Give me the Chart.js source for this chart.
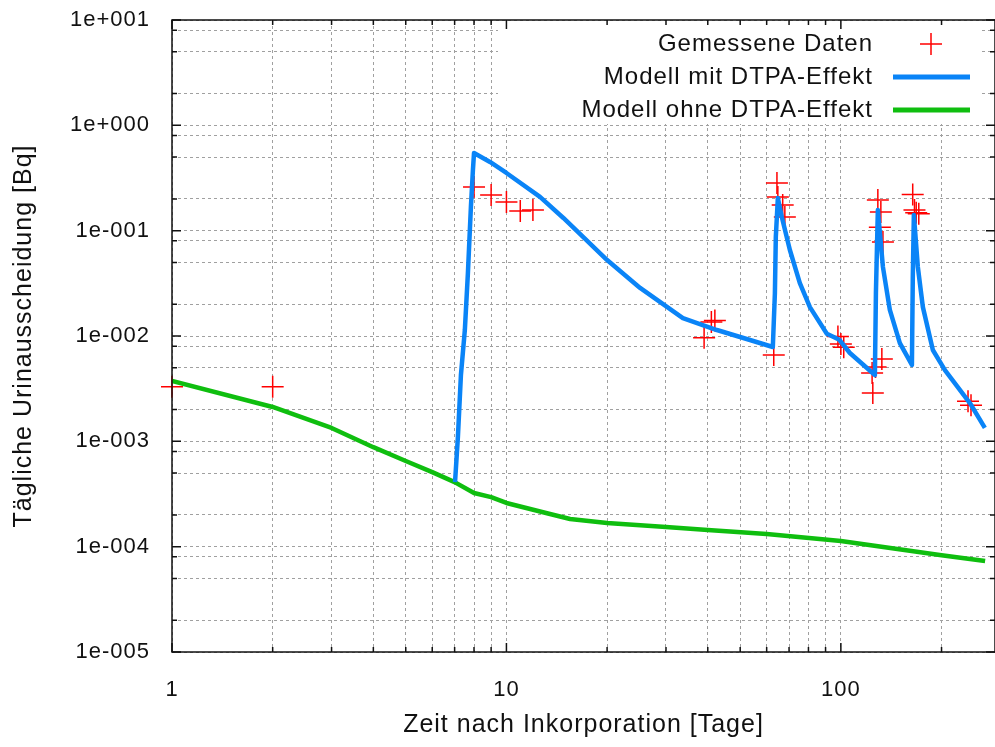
<!DOCTYPE html>
<html>
<head>
<meta charset="utf-8">
<script src="https://cdn.jsdelivr.net/npm/chart.js@4.4.0/dist/chart.umd.min.js"></script>
<style>
  html, body { margin: 0; padding: 0; background: #fff; }
  canvas { display: block; }
</style>
</head>
<body>
<canvas id="myChart" width="995" height="747"></canvas>
<script>
'use strict';

// Messwerte (Tage, Bq)
const messTage = [1, 2, 8, 9, 10, 11, 12, 39, 41, 42, 63, 64.4, 64.8, 67, 68,
  98, 100, 102, 124, 124.6, 127, 132.6, 129, 131.7, 130.8, 133.6, 164, 166, 168, 171, 240, 245];
const messWerte = [3.3e-3, 3.3e-3, 0.26, 0.218, 0.187, 0.154, 0.157, 0.0096, 0.0136, 0.014, 6.6e-3, 0.283, 0.209, 0.175, 0.135,
  0.0099, 0.0084, 0.0078, 4.45e-3, 2.88e-3, 5.08e-3, 6.05e-3, 0.195, 0.15, 0.108, 0.078, 0.22, 0.157, 0.148, 0.145, 2.4e-3, 2.2e-3];

// Modell mit DTPA-Effekt
const mitTage = [7.02, 7.16, 7.31, 7.51, 7.67, 7.83, 7.94, 8.0, 8.93, 10.0, 12.6, 14.8, 20.0, 25.1, 33.7, 42.6, 53.5, 62.6,
  63.5, 63.9, 64.8, 66.6, 70.4, 75.4, 80.8, 90.8, 99, 106.4, 126.4,
  127.3, 129.0, 133.6, 140.1, 150.1, 163.1,
  164.1, 165.3, 169.9, 175.9, 188.4, 204.7, 243.1, 269.5];
const mitWerte = [4.1e-4, 1.1e-3, 4.26e-3, 0.0114, 0.0396, 0.168, 0.377, 0.546, 0.449, 0.353, 0.209, 0.132, 0.0526, 0.0286, 0.0148, 0.0114, 9.16e-3, 7.86e-3,
  0.0256, 0.0871, 0.204, 0.135, 0.0655, 0.0318, 0.0188, 0.0105, 0.0092, 6.9e-3, 4.26e-3,
  0.0256, 0.157, 0.0452, 0.0177, 8.57e-3, 5.31e-3,
  0.0363, 0.141, 0.0452, 0.0188, 7.36e-3, 4.75e-3, 2.31e-3, 1.34e-3];

// Modell ohne DTPA-Effekt
const ohneTage = [1, 2, 3, 4, 5, 6, 7, 8, 9, 10, 13.5, 15.5, 20, 30, 40, 60, 100, 200, 270];
const ohneWerte = [3.74e-3, 2.12e-3, 1.34e-3, 8.8e-4, 6.5e-4, 5.1e-4, 4.1e-4, 3.23e-4, 2.95e-4, 2.6e-4, 2.04e-4, 1.83e-4,
  1.68e-4, 1.54e-4, 1.44e-4, 1.32e-4, 1.13e-4, 8.3e-5, 7.3e-5];

// Achsen
const xTicks = [1, 2, 3, 4, 5, 6, 7, 8, 9, 10, 20, 30, 40, 50, 60, 70, 80, 90, 100, 200];
const xMajor = [1, 10, 100];
const xLabels = ['1', '10', '100'];
const yTicks = [1e-5, 2e-5, 5e-5, 8e-5, 1e-4, 2e-4, 5e-4, 8e-4, 1e-3, 2e-3, 5e-3, 8e-3,
  1e-2, 2e-2, 5e-2, 8e-2, 1e-1, 2e-1, 5e-1, 8e-1, 1, 2, 5, 8, 10];
const yMajor = [1e-5, 1e-4, 1e-3, 1e-2, 1e-1, 1, 10];
const yLabels = ['1e-005', '1e-004', '1e-003', '1e-002', '1e-001', '1e+000', '1e+001'];

const legendItems = ['Gemessene Daten', 'Modell mit DTPA-Effekt', 'Modell ohne DTPA-Effekt'];

const pts = (xs, ys) => xs.map((x, i) => ({x: x, y: ys[i]}));

const FONT = '"Liberation Sans", Arial, sans-serif';

const noPadding = s => {
  s.paddingLeft = 0; s.paddingRight = 0; s.paddingTop = 0; s.paddingBottom = 0;
};

const rahmenPlugin = {
  id: 'rahmen',
  beforeDraw(chart) {
    chart.ctx.letterSpacing = '1px';
  },
  beforeDatasetsDraw(chart) {
    const {ctx, chartArea: a} = chart;
    ctx.save();
    ctx.fillStyle = '#fff';
    ctx.fillRect(a.left + 326, a.top + 1, 482, 103);
    ctx.font = '24px ' + FONT;
    ctx.letterSpacing = '1px';
    ctx.fillStyle = '#111';
    ctx.textAlign = 'right';
    ctx.textBaseline = 'middle';
    const rows = [a.top + 24, a.top + 57, a.top + 90];
    legendItems.forEach((t, i) => ctx.fillText(t, a.left + 701, rows[i]));
    // Symbol rot
    ctx.strokeStyle = '#ff0000';
    ctx.lineWidth = 1.5;
    ctx.beginPath();
    ctx.moveTo(a.left + 748, rows[0]); ctx.lineTo(a.left + 770, rows[0]);
    ctx.moveTo(a.left + 759, rows[0] - 11); ctx.lineTo(a.left + 759, rows[0] + 11);
    ctx.stroke();
    ctx.lineWidth = 5;
    ctx.strokeStyle = '#0a84f7';
    ctx.beginPath(); ctx.moveTo(a.left + 721, rows[1]); ctx.lineTo(a.left + 798, rows[1]); ctx.stroke();
    ctx.strokeStyle = '#0fbe0f';
    ctx.beginPath(); ctx.moveTo(a.left + 721, rows[2]); ctx.lineTo(a.left + 798, rows[2]); ctx.stroke();
    ctx.restore();
  },
  afterDraw(chart) {
    const {ctx, chartArea: a, scales: {x, y}} = chart;
    ctx.save();
    ctx.strokeStyle = '#111';
    ctx.lineWidth = 1.5;
    ctx.beginPath();
    xTicks.forEach(v => {
      const px = x.getPixelForValue(v);
      const len = xMajor.includes(v) ? 9 : 5;
      ctx.moveTo(px, a.bottom); ctx.lineTo(px, a.bottom - len);
      ctx.moveTo(px, a.top); ctx.lineTo(px, a.top + len);
    });
    yTicks.forEach(v => {
      const py = y.getPixelForValue(v);
      const len = yMajor.includes(v) ? 9 : 5;
      ctx.moveTo(a.left, py); ctx.lineTo(a.left + len, py);
      ctx.moveTo(a.right, py); ctx.lineTo(a.right - len, py);
    });
    ctx.stroke();
    ctx.strokeRect(a.left, a.top, a.right - a.left, a.bottom - a.top);
    ctx.restore();
  }
};

const ctx = document.getElementById('myChart').getContext('2d');

const myChart = new Chart(ctx, {
  type: 'scatter',
  data: {
    datasets: [{
      label: legendItems[1],
      data: pts(mitTage, mitWerte),
      showLine: true,
      borderColor: '#0a84f7',
      borderWidth: 4.5,
      borderJoinStyle: 'round',
      pointRadius: 0,
      tension: 0
    }, {
      label: legendItems[2],
      data: pts(ohneTage, ohneWerte),
      showLine: true,
      borderColor: '#0fbe0f',
      borderWidth: 4.5,
      borderJoinStyle: 'round',
      pointRadius: 0,
      tension: 0
    }, {
      label: legendItems[0],
      data: pts(messTage, messWerte),
      pointStyle: 'cross',
      pointRadius: 11,
      pointBorderWidth: 1.5,
      borderColor: '#ff0000',
      clip: false
    }]
  },
  options: {
    responsive: false,
    animation: false,
    events: [],
    layout: { autoPadding: false, padding: { top: 20, right: 0, bottom: 0, left: 0 } },
    plugins: {
      legend: { display: false },
      tooltip: { enabled: false }
    },
    scales: {
      x: {
        type: 'logarithmic',
        min: 1,
        max: 289,
        afterBuildTicks: s => { s.ticks = xTicks.map(v => ({value: v})); },
        afterFit: s => { s.height = 95; noPadding(s); },
        grid: { color: '#a0a0a0', lineWidth: 1, drawTicks: false },
        border: { display: false, dash: [3, 3] },
        ticks: {
          autoSkip: false,
          maxRotation: 0,
          padding: 25,
          color: '#111',
          font: { family: FONT, size: 22 },
          callback: v => { const i = xMajor.indexOf(v); return i >= 0 ? xLabels[i] : ''; }
        },
        title: {
          display: true,
          text: 'Zeit nach Inkorporation [Tage]',
          color: '#111',
          font: { family: FONT, size: 25 },
          padding: { top: 0, bottom: 7 }
        }
      },
      y: {
        type: 'logarithmic',
        min: 1e-5,
        max: 10,
        afterBuildTicks: s => { s.ticks = yTicks.map(v => ({value: v})); },
        afterFit: s => { s.width = 172; noPadding(s); },
        grid: { color: '#a0a0a0', lineWidth: 1, drawTicks: false },
        border: { display: false, dash: [3, 3] },
        ticks: {
          autoSkip: false,
          padding: 22,
          color: '#111',
          font: { family: FONT, size: 22 },
          callback: v => { const i = yMajor.indexOf(v); return i >= 0 ? yLabels[i] : ''; }
        },
        title: {
          display: true,
          text: 'Tägliche Urinausscheidung [Bq]',
          color: '#111',
          font: { family: FONT, size: 25 },
          padding: { top: 9, bottom: 0 }
        }
      }
    }
  },
  plugins: [rahmenPlugin]
});
</script>
</body>
</html>
